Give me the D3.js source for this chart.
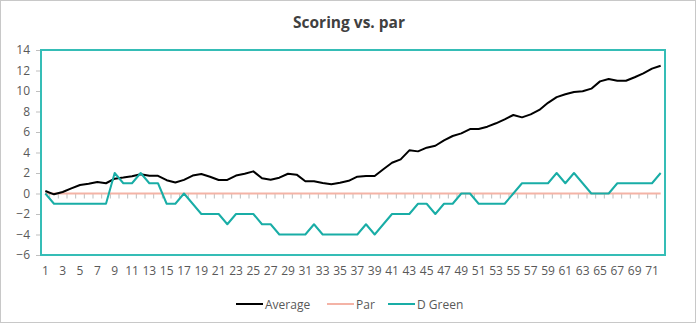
<!DOCTYPE html>
<html>
<head>
<meta charset="utf-8">
<script src="https://cdn.jsdelivr.net/npm/d3@7"></script>
<style>
  html, body { margin: 0; padding: 0; background: #fff; }
  svg { display: block; }
  text { font-family: "Open Sans", "Noto Sans", sans-serif; }
</style>
</head>
<body>
<svg id="chart" width="697" height="325"></svg>
<script>
const title = "Scoring vs. par";
const holes = d3.range(1, 73);
const average = [0.24, -0.08, 0.15, 0.5, 0.83, 0.96, 1.12, 1.0, 1.45, 1.55,
  1.68, 1.87, 1.73, 1.73, 1.3, 1.07, 1.33, 1.75, 1.9, 1.64,
  1.32, 1.32, 1.75, 1.93, 2.16, 1.48, 1.35, 1.54, 1.93, 1.84,
  1.19, 1.19, 1.02, 0.9, 1.04, 1.24, 1.64, 1.71, 1.71, 2.36,
  3.0, 3.33, 4.21, 4.11, 4.47, 4.66, 5.18, 5.61, 5.87, 6.29,
  6.29, 6.52, 6.85, 7.24, 7.66, 7.43, 7.72, 8.15, 8.85, 9.4,
  9.68, 9.9, 9.97, 10.23, 10.94, 11.17, 11.0, 11.0, 11.34, 11.72,
  12.18, 12.47];
const par = holes.map(() => 0);
const dGreen = [0, -1, -1, -1, -1, -1, -1, -1, 2, 1,
  1, 2, 1, 1, -1, -1, 0, -1, -2, -2,
  -2, -3, -2, -2, -2, -3, -3, -4, -4, -4,
  -4, -3, -4, -4, -4, -4, -4, -3, -4, -3,
  -2, -2, -2, -1, -1, -2, -1, -1, 0, 0,
  -1, -1, -1, -1, 0, 1, 1, 1, 1, 2,
  1, 2, 1, 0, 0, 0, 1, 1, 1, 1,
  1, 2];
const yTicks = [14, 12, 10, 8, 6, 4, 2, 0, -2, -4, -6];
const xLabels = holes.filter(d => d % 2 === 1);
const seriesNames = ["Average", "Par", "D Green"];
const seriesColors = ["#000000", "#F4B3A6", "#19ADA6"];

const svg = d3.select("#chart");
const L = 41, R = 665, T = 50, B = 255;

// outer chart border
svg.append("rect").attr("x", 0.5).attr("y", 0.5).attr("width", 695).attr("height", 322)
  .attr("fill", "#fff").attr("stroke", "#c8c8c8").attr("stroke-width", 1);

svg.append("text").attr("x", 349).attr("y", 28).attr("text-anchor", "middle")
  .attr("font-size", 15.5).attr("font-weight", 700).attr("fill", "#404040").text(title);

const x = d3.scaleBand().domain(holes).range([L, R]).padding(0);
const cx = d => x(d) + x.bandwidth() / 2;
const y = d3.scaleLinear().domain([-6, 14]).range([B, T]);

// y axis labels + ticks
const yAxis = d3.axisLeft(y).tickValues(yTicks).tickSize(4).tickPadding(6).tickFormat(d3.format("d"));
const ya = svg.append("g").attr("transform", `translate(${L - 1},0)`).call(yAxis);
ya.select(".domain").remove();
ya.selectAll(".tick line").attr("stroke", "#bfbfbf");
ya.selectAll(".tick text").attr("font-size", 12).attr("fill", "#595959")
  .attr("font-family", "'Open Sans', 'Noto Sans', sans-serif");

// x labels at bottom
const xAxis = d3.axisBottom(x).tickValues(xLabels).tickSize(0).tickPadding(11);
const xa = svg.append("g").attr("transform", `translate(0,${B})`).call(xAxis);
xa.select(".domain").remove();
xa.selectAll(".tick text").attr("font-size", 12).attr("fill", "#595959")
  .attr("font-family", "'Open Sans', 'Noto Sans', sans-serif");

// x tick marks at category boundaries on the zero line
const boundaries = holes.map(d => x(d)).concat([x(holes[holes.length - 1]) + x.bandwidth()]);
svg.append("g").selectAll("line").data(boundaries).join("line")
  .attr("x1", d => d).attr("x2", d => d)
  .attr("y1", y(0)).attr("y2", y(0) + 5)
  .attr("stroke", "#bfbfbf").attr("stroke-width", 1);

// series lines
const line = d3.line().x((d, i) => cx(holes[i])).y(d => y(d));
const seriesData = [average, par, dGreen];
[1, 0, 2].forEach(k => {
  svg.append("path").datum(seriesData[k]).attr("d", line)
    .attr("fill", "none").attr("stroke", seriesColors[k]).attr("stroke-width", 2)
    .attr("stroke-linejoin", "round");
});

// plot area border
svg.append("rect").attr("x", L).attr("y", T).attr("width", R - L).attr("height", B - T)
  .attr("fill", "none").attr("stroke", "#35BDB6").attr("stroke-width", 2);

// legend
const legendX = [236, 327, 388];
const lg = svg.append("g");
seriesNames.forEach((name, i) => {
  lg.append("line").attr("x1", legendX[i]).attr("x2", legendX[i] + 27)
    .attr("y1", 304).attr("y2", 304).attr("stroke", seriesColors[i]).attr("stroke-width", 2);
  lg.append("text").attr("x", legendX[i] + 29).attr("y", 308.5).attr("font-size", 12)
    .attr("fill", "#595959").text(name);
});
</script>
</body>
</html>
